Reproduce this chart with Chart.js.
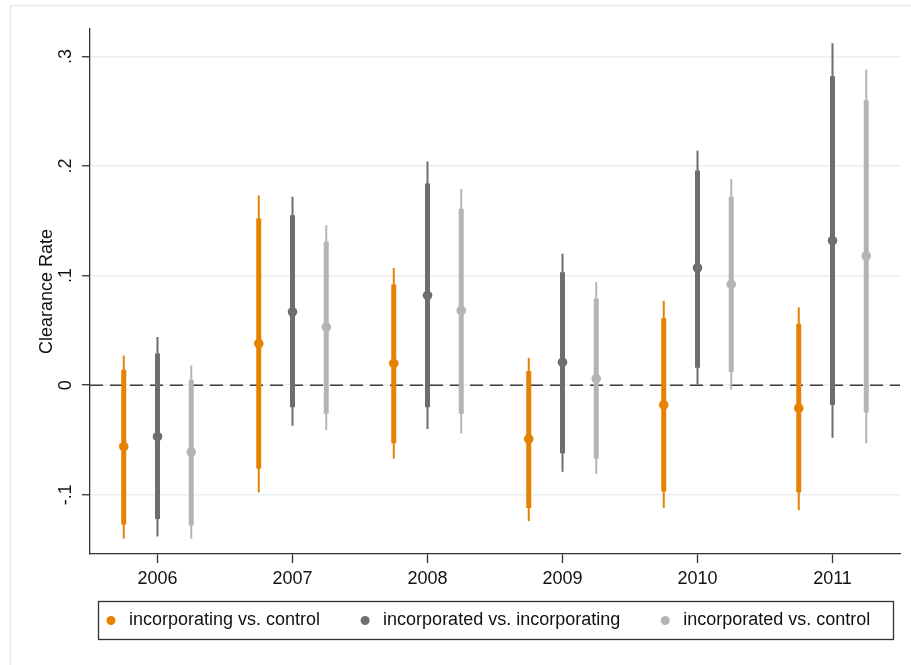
<!DOCTYPE html>
<html>
<head>
<meta charset="utf-8">
<script src="https://cdn.jsdelivr.net/npm/chart.js@4.4.1/dist/chart.umd.min.js"></script>
<style>
html, body { margin: 0; padding: 0; background: #fff; }
#wrap { width: 911px; height: 665px; }
</style>
</head>
<body>
<div id="wrap"><canvas id="c" width="911" height="665"></canvas></div>
<script>
// categories and tick labels
const years = [2006, 2007, 2008, 2009, 2010, 2011];
const yTicks = [-0.1, 0, 0.1, 0.2, 0.3];
const yTickLabels = ['-.1', '0', '.1', '.2', '.3'];

// series
const seriesNames = ['incorporating vs. control', 'incorporated vs. incorporating', 'incorporated vs. control'];
const seriesColors = ['#E68200', '#6E6E6E', '#B4B4B4'];
const seriesOffsets = [-0.25, 0, 0.25];

// incorporating vs. control
const estA = [-0.056, 0.038, 0.020, -0.049, -0.018, -0.021];
const loA90 = [-0.127, -0.076, -0.053, -0.112, -0.097, -0.098];
const hiA90 = [0.014, 0.152, 0.092, 0.013, 0.061, 0.056];
const loA95 = [-0.140, -0.098, -0.067, -0.124, -0.112, -0.114];
const hiA95 = [0.027, 0.173, 0.107, 0.025, 0.077, 0.071];

// incorporated vs. incorporating
const estB = [-0.047, 0.067, 0.082, 0.021, 0.107, 0.132];
const loB90 = [-0.122, -0.020, -0.020, -0.062, 0.016, -0.018];
const hiB90 = [0.029, 0.155, 0.184, 0.103, 0.196, 0.282];
const loB95 = [-0.138, -0.037, -0.040, -0.079, 0.000, -0.048];
const hiB95 = [0.044, 0.172, 0.204, 0.120, 0.214, 0.312];

// incorporated vs. control
const estC = [-0.061, 0.053, 0.068, 0.006, 0.092, 0.118];
const loC90 = [-0.128, -0.026, -0.026, -0.067, 0.012, -0.025];
const hiC90 = [0.005, 0.131, 0.161, 0.079, 0.172, 0.260];
const loC95 = [-0.140, -0.041, -0.044, -0.081, -0.004, -0.053];
const hiC95 = [0.018, 0.146, 0.179, 0.094, 0.188, 0.288];

const FONT = '"Liberation Sans", Arial, sans-serif';

function ciData(off, lo, hi) {
  return years.map((yr, i) => ({ x: yr + off, y: [lo[i], hi[i]] }));
}
function estData(off, est) {
  return years.map((yr, i) => ({ x: yr + off, y: est[i] }));
}

const allSeries = [
  { est: estA, lo90: loA90, hi90: hiA90, lo95: loA95, hi95: hiA95 },
  { est: estB, lo90: loB90, hi90: hiB90, lo95: loB95, hi95: hiB95 },
  { est: estC, lo90: loC90, hi90: hiC90, lo95: loC95, hi95: hiC95 }
];

const datasets = [];
allSeries.forEach((s, k) => {
  const off = seriesOffsets[k];
  const col = seriesColors[k];
  // thin = outer interval, thick = inner interval, dot = estimate
  datasets.push({
    type: 'bar', label: seriesNames[k], data: ciData(off, s.lo95, s.hi95),
    backgroundColor: col, borderWidth: 0, maxBarThickness: 2, grouped: false, order: 3
  });
  datasets.push({
    type: 'bar', label: seriesNames[k], data: ciData(off, s.lo90, s.hi90),
    backgroundColor: col, borderWidth: 0, maxBarThickness: 5, grouped: false, order: 2
  });
  datasets.push({
    type: 'scatter', label: seriesNames[k], data: estData(off, s.est),
    pointRadius: 4.8, pointBackgroundColor: col, pointBorderWidth: 0, order: 1
  });
});

// white background + light outer frame
const framePlugin = {
  id: 'frame',
  beforeDraw(chart) {
    const ctx = chart.ctx;
    ctx.save();
    ctx.fillStyle = '#fff';
    ctx.fillRect(0, 0, chart.width, chart.height);
    ctx.strokeStyle = '#E6EDF0';
    ctx.lineWidth = 1.5;
    ctx.strokeRect(10.5, 5.5, 940, 700);
    ctx.restore();
  }
};

// dashed reference line at zero
const zeroLine = {
  id: 'zeroLine',
  beforeDatasetsDraw(chart) {
    const { ctx, chartArea, scales } = chart;
    const y = scales.y.getPixelForValue(0);
    ctx.save();
    ctx.strokeStyle = '#3C3C3C';
    ctx.lineWidth = 1.5;
    ctx.setLineDash([13, 7]);
    ctx.beginPath();
    ctx.moveTo(chartArea.left, y);
    ctx.lineTo(chartArea.right, y);
    ctx.stroke();
    ctx.restore();
  }
};

// boxed legend below the plot
const legendBox = {
  id: 'legendBox',
  afterDraw(chart) {
    const ctx = chart.ctx;
    ctx.save();
    ctx.strokeStyle = '#333';
    ctx.lineWidth = 1.3;
    ctx.strokeRect(98.5, 601.5, 795, 38);
    ctx.font = '18px ' + FONT;
    ctx.textBaseline = 'middle';
    ctx.textAlign = 'left';
    let x = 111;
    const y = 620.5;
    seriesNames.forEach((name, k) => {
      ctx.fillStyle = seriesColors[k];
      ctx.beginPath();
      ctx.arc(x, y, 4.5, 0, Math.PI * 2);
      ctx.fill();
      ctx.fillStyle = '#111';
      ctx.fillText(name, x + 18, y);
      x += 18 + ctx.measureText(name).width + 45;
    });
    ctx.restore();
  }
};

new Chart(document.getElementById('c'), {
  type: 'bar',
  data: { datasets: datasets },
  options: {
    responsive: false,
    devicePixelRatio: 1,
    animation: false,
    layout: { padding: { left: 0, right: 11, top: 29, bottom: 71 } },
    plugins: { legend: { display: false }, tooltip: { enabled: false } },
    scales: {
      x: {
        type: 'linear', min: 2005.5, max: 2011.5, offset: false,
        afterBuildTicks: (scale) => { scale.ticks = years.map(v => ({ value: v })); },
        afterFit: (scale) => { scale.height = 40; },
        ticks: {
          callback: (v, i) => String(years[i]),
          font: { family: FONT, size: 18 }, color: '#111', padding: 5, maxRotation: 0
        },
        grid: { drawOnChartArea: false, offset: false, tickLength: 9, tickColor: '#333', tickWidth: 1.3 },
        border: { color: '#333', width: 1.3 }
      },
      y: {
        type: 'linear', min: -0.154, max: 0.325,
        afterBuildTicks: (scale) => { scale.ticks = yTicks.map(v => ({ value: v })); },
        afterFit: (scale) => { scale.width = 90; },
        ticks: {
          callback: (v, i) => yTickLabels[i],
          font: { family: FONT, size: 18 }, color: '#111',
          minRotation: 90, maxRotation: 90, crossAlign: 'center', padding: 5
        },
        grid: { color: '#E9F0F2', lineWidth: 1.5, tickLength: 8, tickColor: '#333', tickWidth: 1.3 },
        border: { color: '#333', width: 1.3 },
        title: {
          display: true, text: 'Clearance Rate', color: '#111',
          font: { family: FONT, size: 18 }, padding: { top: 36, bottom: 0 }
        }
      }
    }
  },
  plugins: [framePlugin, zeroLine, legendBox]
});
</script>
</body>
</html>
